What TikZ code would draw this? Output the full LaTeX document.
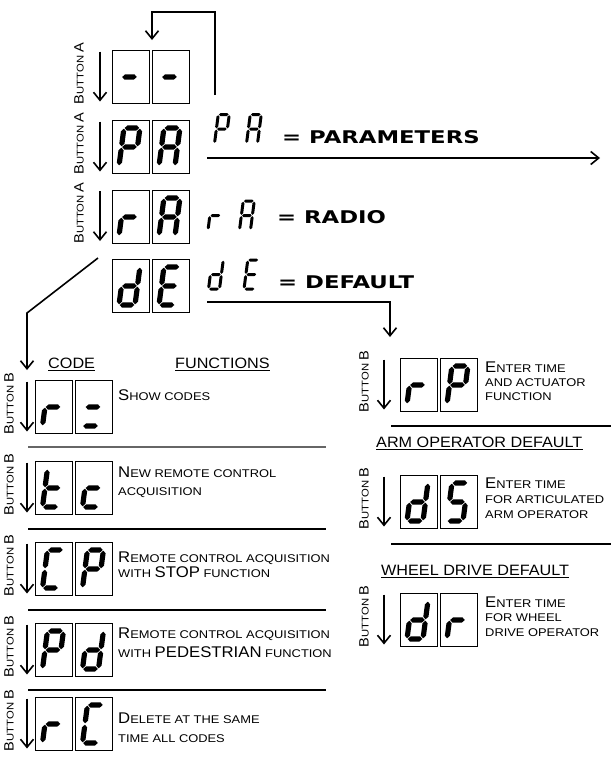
\documentclass[tikz,border=0pt]{standalone}
\usepackage{fontspec}
\usetikzlibrary{arrows.meta}
\newfontfamily\cadH[FakeStretch=1.08]{Liberation Sans}
\newfontfamily\cadS[FakeStretch=1.15]{Liberation Sans}
\newfontfamily\boldF[FakeStretch=1.3]{DejaVu Sans}
\newcommand\Bg[1]{{\cadH\fontsize{15.5}{17}\selectfont #1}}
\newcommand\Sm[1]{{\cadS\fontsize{11.2}{13}\selectfont #1}}
\newcommand\BgB[1]{{\cadH\fontsize{13.5}{16}\selectfont #1}}
\newcommand\SmB[1]{{\cadS\fontsize{9.8}{12}\selectfont #1}}
\newcommand\Hd[1]{{\cadH\fontsize{15}{17}\selectfont #1}}
\newcommand\Bd[1]{{\boldF\bfseries\fontsize{17.5}{20}\selectfont #1}}
% seven segment pieces
\newcommand\dsegH[1]{\fill ({\dG},{#1}) -- ({\dG+\dT},{#1+\dT}) -- ({\dW-\dG-\dT},{#1+\dT}) -- ({\dW-\dG},{#1}) -- ({\dW-\dG-\dT},{#1-\dT}) -- ({\dG+\dT},{#1-\dT}) -- cycle;}
\newcommand\dsegV[3]{\fill ({#1},{#2+\dG}) -- ({#1+\dT},{#2+\dG+\dT}) -- ({#1+\dT},{#3-\dG-\dT}) -- ({#1},{#3-\dG}) -- ({#1-\dT},{#3-\dG-\dT}) -- ({#1-\dT},{#2+\dG+\dT}) -- cycle;}
\newcommand\dsega{\dsegH{-\dH}}
\newcommand\dsegb{\dsegV{\dW}{-\dH}{-\dH/2}}
\newcommand\dsegc{\dsegV{\dW}{-\dH/2}{0}}
\newcommand\dsegd{\dsegH{0}}
\newcommand\dsege{\dsegV{0}{-\dH/2}{0}}
\newcommand\dsegf{\dsegV{0}{-\dH}{-\dH/2}}
\newcommand\dsegg{\dsegH{-\dH/2}}
\newcommand\digit[7]{%
 \begin{scope}[shift={({#1},{#2})}, xslant=#6]
 \def\dW{#3}\def\dH{#4}\def\dT{#5}\def\dG{0.7}
 \foreach \s in {#7}{\csname dseg\s\endcsname}
 \end{scope}}
\newcommand\bdig[3]{\digit{#1}{#2}{16}{38}{2.6}{0.13}{#3}}
\newcommand\pdig[3]{\digit{#1}{#2}{11}{29}{1.5}{0.13}{#3}}
\newcommand\boxrow[5]{%
 \node[dbox] (#1a) at ({#2+18.5},{#3+26.5}) {};
 \node[dbox] (#1b) at ({#2+58.5},{#3+26.5}) {};
 \bdig{#2+7}{#3+46}{#4}
 \bdig{#2+47}{#3+46}{#5}}
\tikzset{
 dbox/.style={draw, line width=1pt, minimum width=37pt, minimum height=53pt, inner sep=0pt},
 arr/.style={-{Straight Barb[length=8pt,width=13pt]}, line width=1.6pt},
 conn/.style={line width=1.3pt},
 sepline/.style={line width=1.2pt},
 uline/.style={line width=1pt},
 txt/.style={anchor=base west, inner sep=0pt},
 blabel/.style={rotate=90, inner sep=0pt}
}
\begin{document}
\begin{tikzpicture}[x=1pt,y=-1pt]
\useasboundingbox (0,0) rectangle (611,758);
% ---- top column
\boxrow{dash}{112}{50}{g}{g}
\boxrow{pa}{112}{120}{a,b,e,f,g}{a,b,c,e,f,g}
\boxrow{ra}{112}{190}{e,g}{a,b,c,e,f,g}
\boxrow{de}{112}{259}{b,c,d,e,g}{a,d,e,f,g}
\foreach \n/\yc in {ba1/76.5,ba2/146.5,ba3/216}{
 \node[blabel] (\n) at (79,\yc-3) {\BgB{B}\SmB{UTTON }\BgB{A}};
 \coordinate (\n t) at (100,\yc-25);
 \coordinate (\n b) at (100,\yc+25);
 \draw[arr] (\n t) -- (\n b);
}
% loop arrow
\coordinate (lp0) at (215,95);
\coordinate (lp1) at (152,40);
\draw[conn,arr] (lp0) -- (215,12) -| (lp1);
% plain digit labels
\pdig{214.5}{143.5}{a,b,e,f,g}
\pdig{246.5}{143.5}{a,b,c,e,f,g}
\pdig{208}{230}{e,g}
\pdig{239.5}{230}{a,b,c,e,f,g}
\pdig{208.5}{289}{b,c,d,e,g}
\pdig{244}{289}{a,d,e,f,g}
\node[txt] (tpa) at (282,143) {\Bd{= PARAMETERS}};
\node[txt] (tra) at (277,223) {\Bd{= RADIO}};
\node[txt] (tde) at (278,288) {\Bd{= DEFAULT}};
% PA arrow
\coordinate (pa0) at (207,158);
\coordinate (pa1) at (600,158);
\draw[conn,arr] (pa0) -- (pa1);
% dE connector to right column
\coordinate (de0) at (207,302);
\coordinate (de1) at (390,337);
\draw[conn,arr] (de0) -| (de1);
% diagonal to left column
\coordinate (dg0) at (98,258);
\coordinate (dg1) at (27,313);
\coordinate (dg2) at (27,370);
\draw[conn,arr] (dg0) -- (dg1) -- (dg2);
% headers
\node[txt] (hcode) at (48,368) {\Hd{CODE}};
\node[txt] (hfunc) at (175,368) {\Hd{FUNCTIONS}};
\node[txt] (harm) at (376,447) {\Hd{ARM OPERATOR DEFAULT}};
\node[txt] (hwheel) at (381,575) {\Hd{WHEEL DRIVE DEFAULT}};
\foreach \h in {hcode,hfunc,harm,hwheel}{
 \draw[uline] ([yshift=-2.5pt]\h.base west) -- ([yshift=-2.5pt]\h.base east);
}
% ---- left column
\boxrow{rs}{35.5}{380}{e,g}{g,d}
\boxrow{tc}{35.5}{461}{f,e,g,d}{g,e,d}
\boxrow{cp}{35.5}{542}{a,f,e,d}{a,b,e,f,g}
\boxrow{pd}{35.5}{623}{a,b,e,f,g}{b,c,d,e,g}
\boxrow{rc}{35.5}{697}{e,g}{a,f,e,d}
\foreach \n/\yc in {bb1/406.5,bb2/487.5,bb3/568.5,bb4/649.5,bb5/723.5}{
 \node[blabel] (\n) at (9,\yc-3) {\BgB{B}\SmB{UTTON }\BgB{B}};
 \coordinate (\n t) at (27,\yc-25);
 \coordinate (\n b) at (27,\yc+25);
 \draw[arr] (\n t) -- (\n b);
}
\node[txt] (t1) at (118,400) {\Bg{S}\Sm{HOW CODES}};
\node[txt] (t2a) at (118,477) {\Bg{N}\Sm{EW REMOTE CONTROL}};
\node[txt] (t2b) at (118,495) {\Sm{ACQUISITION}};
\node[txt] (t3a) at (118,562) {\Bg{R}\Sm{EMOTE CONTROL ACQUISITION}};
\node[txt] (t3b) at (118,577) {\Sm{WITH }\Bg{STOP}\Sm{ FUNCTION}};
\node[txt] (t4a) at (118,638) {\Bg{R}\Sm{EMOTE CONTROL ACQUISITION}};
\node[txt] (t4b) at (118,657) {\Sm{WITH }\Bg{PEDESTRIAN}\Sm{ FUNCTION}};
\node[txt] (t5a) at (118,723) {\Bg{D}\Sm{ELETE AT THE SAME}};
\node[txt] (t5b) at (118,742) {\Sm{TIME ALL CODES}};
% separators left
\coordinate (s1a) at (28,447); \coordinate (s1b) at (326,447);
\draw[sepline, line width=2.2pt, black!60] (s1a) -- (s1b);
\foreach \n/\yy in {s2/529,s3/610,s4/690}{
 \coordinate (\n a) at (28,\yy); \coordinate (\n b) at (326,\yy);
 \draw[sepline] (\n a) -- (\n b);
}
% ---- right column
\boxrow{rp}{400}{358}{e,g}{a,b,e,f,g}
\boxrow{ds}{400}{475}{b,c,d,e,g}{a,f,g,c,d}
\boxrow{dr}{400}{593}{b,c,d,e,g}{e,g}
\foreach \n/\yc in {bc1/384.5,bc2/501.5,bc3/619.5}{
 \node[blabel] (\n) at (364,\yc-3) {\BgB{B}\SmB{UTTON }\BgB{B}};
 \coordinate (\n t) at (384,\yc-25);
 \coordinate (\n b) at (384,\yc+25);
 \draw[arr] (\n t) -- (\n b);
}
\node[txt] (r1a) at (485,372) {\Bg{E}\Sm{NTER TIME}};
\node[txt] (r1b) at (485,386) {\Sm{AND ACTUATOR}};
\node[txt] (r1c) at (485,400) {\Sm{FUNCTION}};
\node[txt] (r2a) at (485,488) {\Bg{E}\Sm{NTER TIME}};
\node[txt] (r2b) at (485,503) {\Sm{FOR ARTICULATED}};
\node[txt] (r2c) at (485,518) {\Sm{ARM OPERATOR}};
\node[txt] (r3a) at (485,607) {\Bg{E}\Sm{NTER TIME}};
\node[txt] (r3b) at (485,621) {\Sm{FOR WHEEL}};
\node[txt] (r3c) at (485,636) {\Sm{DRIVE OPERATOR}};
\foreach \n/\yy in {s5/426,s6/544}{
 \coordinate (\n a) at (391,\yy); \coordinate (\n b) at (611,\yy);
 \draw[sepline] (\n a) -- (\n b);
}
\end{tikzpicture}
\end{document}
